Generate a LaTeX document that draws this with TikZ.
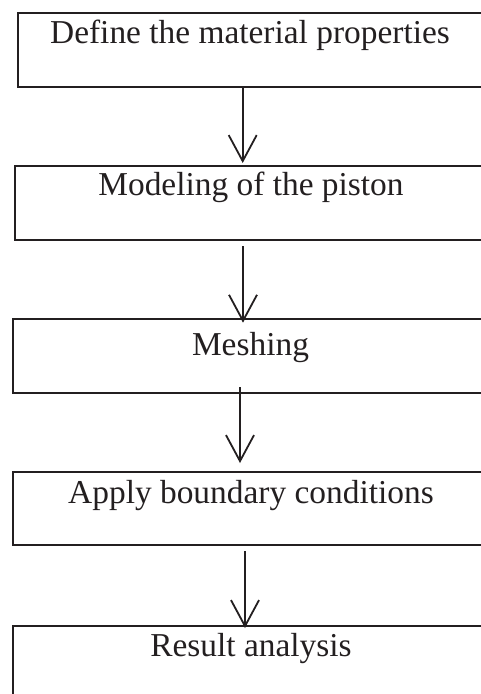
\documentclass[tikz,border=0pt]{standalone}
\usepackage{fontspec}
\setmainfont{Liberation Serif}
\usetikzlibrary{arrows.meta}
\definecolor{ink}{HTML}{231F20}
\begin{document}
\begin{tikzpicture}[x=1pt,y=-1pt,
  stepbox/.style={draw=ink, line width=2pt, anchor=north west,
    inner sep=0pt, minimum width=#1},
  stepbox/.default=490pt,
  steptext/.style={anchor=base, inner sep=0pt, text=ink,
    font=\fontsize{33.4}{38}\selectfont},
  flow/.style={draw=ink, line width=1.8pt,
    -{Straight Barb[length=26pt,width=28pt,line width=1.8pt]}}
]
\useasboundingbox (0,0) rectangle (481,694);
\clip (0,0) rectangle (481,694);

% process steps (right side runs past the page edge)
\node[stepbox, minimum height=74.3pt] (b1) at (16.7,11.7) {};
\node[stepbox, minimum height=73.7pt] (b2) at (14,165) {};
\node[stepbox, minimum height=73.7pt] (b3) at (12,318) {};
\node[stepbox, minimum height=73pt]   (b4) at (12,471) {};
\node[stepbox, minimum height=100pt]  (b5) at (12,625) {};

\node[steptext] (t1) at (250,43.3) {Define the material properties};
\node[steptext] (t2) at (251,195)  {Modeling of the piston};
\node[steptext] (t3) at (250.5,355) {Meshing};
\node[steptext] (t4) at (251,503)  {Apply boundary conditions};
\node[steptext] (t5) at (251,656)  {Result analysis};

% connector columns
\coordinate (x1) at (242.7,0);
\coordinate (x2) at (243,0);
\coordinate (x3) at (240,0);
\coordinate (x4) at (245,0);

\draw[flow, shorten >=2pt] (b1.south -| x1) -- (b2.north -| x1);
\draw[flow, shorten <=5.3pt, shorten >=-4.7pt] (b2.south -| x2) -- (b3.north -| x2);
\draw[flow, shorten <=-6.7pt, shorten >=8pt] (b3.south -| x3) -- (b4.north -| x3);
\draw[flow, shorten <=5pt, shorten >=-3pt] (b4.south -| x4) -- (b5.north -| x4);
\end{tikzpicture}
\end{document}
